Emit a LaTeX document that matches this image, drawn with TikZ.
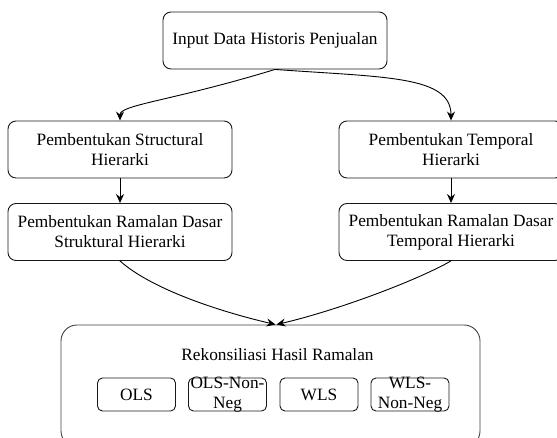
\documentclass[tikz,border=0pt]{standalone}
\usepackage{fontspec}
\setmainfont{Liberation Serif}
\usetikzlibrary{arrows.meta}
\begin{document}
\begin{tikzpicture}[x=1pt, y=1pt, >={Stealth[length=9pt,width=8pt,inset=3pt]},
        every node/.style={font=\fontsize{17.3}{20}\selectfont},
        box/.style={draw=black!90, line width=0.9pt, rounded corners=8pt, minimum width=224pt, minimum height=57pt, inner sep=0pt, align=center},
        subbox/.style={draw=black!90, line width=0.9pt, rounded corners=5pt, minimum width=78pt, minimum height=33pt, inner sep=0pt}]
        \useasboundingbox (0,0) rectangle (557,438);

        \node[box] (inp) at (275,397.5) {Input Data Historis Penjualan};

        \node[box] (s1) at (120,288.5) {Pembentukan Structural\\Hierarki};
        \node[box] (t1) at (451,288.5) {Pembentukan Temporal\\Hierarki};

        \node[box] (s2) at (120,206) {Pembentukan Ramalan Dasar\\Struktural Hierarki};
        \node[box] (t2) at (451,206) {Pembentukan Ramalan Dasar\\Temporal Hierarki};

        \node[box, draw=black!75, rounded corners=16pt, minimum width=419pt, minimum height=122pt] (rek) at (270.5,52) {};
        \node (rek-t) at (277.5,83) {Rekonsiliasi Hasil Ramalan};

        \foreach \x/\n/\t in {136.5/m1/OLS, 227.5/m2/{OLS-Non-\\Neg}, 319/m3/WLS, 410/m4/{WLS-\\Non-Neg}} {
                \node[subbox] (\n) at (\x,43.5) {};
                \node[align=center, inner sep=0pt] (\n-t) at (\n) {\t};
            }

        \draw[->, line width=0.9pt] (inp.south) .. controls +(-105,-32) and +(0,16) .. (s1.north);
        \draw[->, line width=0.9pt] (inp.south) .. controls +(110,-8) and +(0,45) .. (t1.north);
        \draw[->, line width=0.9pt] (s1) -- (s2);
        \draw[->, line width=0.9pt] (t1) -- (t2);
        \draw[->, line width=0.9pt] (s2.south) .. controls +(30,-27) and +(-60,14) .. ([xshift=5pt]rek.north);
        \draw[->, line width=0.9pt] (t2.south) .. controls +(-35,-20) and +(60,14) .. ([xshift=6pt]rek.north);
    \end{tikzpicture}
\end{document}
